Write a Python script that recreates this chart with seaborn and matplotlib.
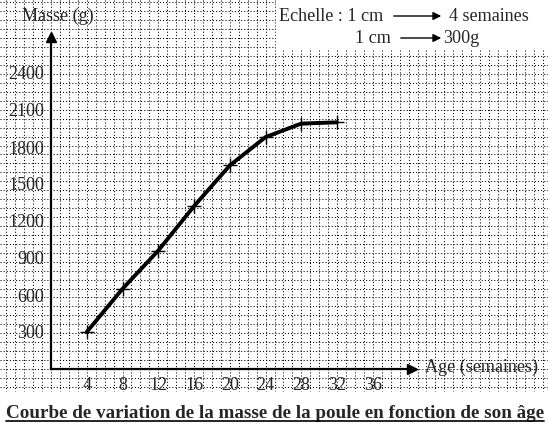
import numpy as np
import pandas as pd
import seaborn as sns
import matplotlib.pyplot as plt

# data
age_weeks = [4, 8, 12, 16, 20, 24, 28, 32]
mass_g = [300, 650, 960, 1320, 1650, 1880, 1990, 2000]
x_ticks = [4, 8, 12, 16, 20, 24, 28, 32, 36]
y_ticks = [300, 600, 900, 1200, 1500, 1800, 2100, 2400]

df = pd.DataFrame({'age': age_weeks, 'mass': mass_g})

sns.set_style('white')
plt.rcParams['font.family'] = ['Liberation Serif', 'DejaVu Serif']

W, H = 548, 428
fig = plt.figure(figsize=(W / 100, H / 100), dpi=100)

# squared paper in the background (pixel coordinates)
bg = fig.add_axes([0, 0, 1, 1])
bg.set_xlim(0, W)
bg.set_ylim(H, 0)
bg.axis('off')
step = 8.94
grid_kw = dict(color='black', lw=0.75, ls=(0, (1, 2)))
xs = np.arange(51 % step, W, step)
ys = np.arange(369 % step, 392, step)
for x in xs:
    bg.plot([x, x], [0, 391], **grid_kw)
for y in ys:
    bg.plot([0, W], [y, y], **grid_kw)
# white patches where the paper is hidden
bg.add_patch(plt.Rectangle((276, 0), W - 276, 48, color='white', zorder=3))
bg.add_patch(plt.Rectangle((0, 393), W, H - 393, color='white', zorder=3))

fs = 13.1

# scale legend
bg.text(279, 16, 'Echelle : 1 cm', fontsize=fs, va='center', ha='left', zorder=4)
bg.annotate('', xy=(444, 16), xytext=(391, 16), zorder=4,
            arrowprops=dict(arrowstyle='-|>', color='black', lw=1, mutation_scale=12))
bg.text(449, 16, '4 semaines', fontsize=fs, va='center', ha='left', zorder=4)
bg.text(355, 38, '1 cm', fontsize=fs, va='center', ha='left', zorder=4)
bg.annotate('', xy=(444, 38), xytext=(398, 38), zorder=4,
            arrowprops=dict(arrowstyle='-|>', color='black', lw=1, mutation_scale=12))
bg.text(443, 38, '300g', fontsize=fs, va='center', ha='left', zorder=4)

# main axes: x=0 at px 51, y=0 at px 369
px_x = 35.75 / 4
px_y = 37.0 / 300
left, right, top, bottom = 51, 412, 37, 369
ax = fig.add_axes([left / W, 1 - bottom / H, (right - left) / W, (bottom - top) / H])
ax.patch.set_alpha(0)
ax.set_xlim(0, (right - left) / px_x)
ax.set_ylim(0, (bottom - top) / px_y)

sns.lineplot(data=df, x='age', y='mass', ax=ax, color='black', lw=2.8,
             solid_joinstyle='round', solid_capstyle='round')
sns.scatterplot(data=df, x='age', y='mass', ax=ax, marker='+', s=110,
                color='black', linewidth=1, zorder=5)

for s in ['top', 'right']:
    ax.spines[s].set_visible(False)
for s in ['left', 'bottom']:
    ax.spines[s].set_linewidth(1.6)
    ax.spines[s].set_color('black')
ax.plot(1, 0, '>', color='black', ms=7, transform=ax.transAxes, clip_on=False)
ax.plot(0, 1, '^', color='black', ms=7, transform=ax.transAxes, clip_on=False)

ax.set_xticks(x_ticks)
ax.set_yticks(y_ticks)
ax.set_xticklabels([str(v) for v in x_ticks], fontsize=13)
ax.set_yticklabels([str(v) for v in y_ticks], fontsize=13)
ax.tick_params(axis='both', length=3, width=0.8, color='black', pad=2, direction='out')
ax.tick_params(axis='x', pad=3)
ax.set_xlabel('')
ax.set_ylabel('')

bg.text(22, 16, 'Masse (g)', fontsize=13, va='center', ha='left', zorder=4)
bg.text(425, 367, 'Age (semaines)', fontsize=13.1, va='center', ha='left', zorder=4)

title = bg.text(W / 2 + 1, 413, 'Courbe de variation de la masse de la poule en fonction de son âge',
                fontsize=13.8, fontweight='bold', va='center', ha='center', zorder=4)
fig.canvas.draw()
bb = title.get_window_extent().transformed(bg.transData.inverted())
bg.plot([bb.x0, bb.x1], [bb.y0 - 1, bb.y0 - 1], color='black', lw=1.2, zorder=4)

fig.savefig('out.png', dpi=100)
